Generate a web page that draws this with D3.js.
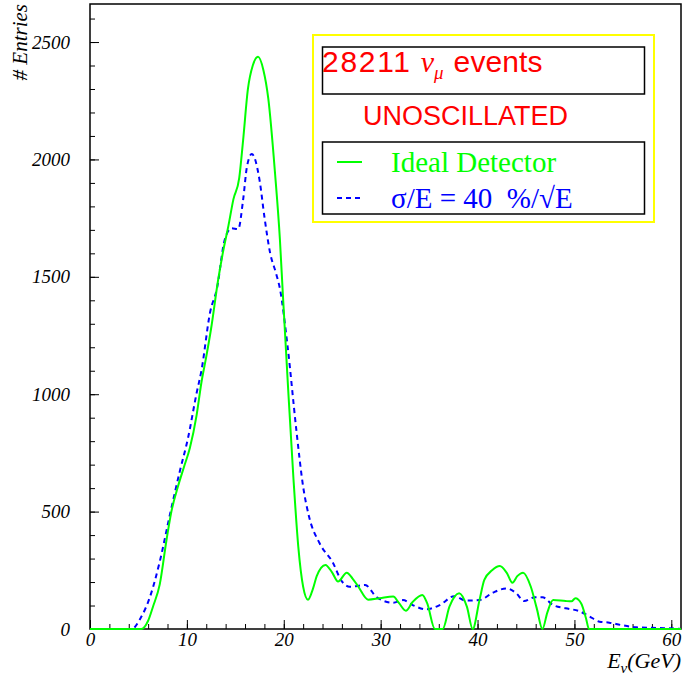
<!DOCTYPE html>
<html>
<head>
<meta charset="utf-8">
<script src="https://cdn.jsdelivr.net/npm/d3@7"></script>
<style>
  html, body { margin: 0; padding: 0; background: #fff; }
  svg { display: block; }
</style>
</head>
<body>
<svg id="chart" width="683" height="677"></svg>
<script>
// Neutrino energy spectrum, 28211 nu_mu events, unoscillated
// Energy points (GeV) and bin contents for the ideal detector
const idealE = [0, 2, 4, 5.3, 6.0, 6.5, 7.2, 7.9, 8.4, 9.1, 9.7, 10.3, 11.0, 11.5, 12.0, 12.5, 13.2, 13.7, 14.3, 14.8, 15.4, 15.8, 16.3, 16.8, 17.35, 17.9, 18.4, 19.1, 19.6, 19.9, 20.4, 21.0, 21.5, 22.0, 22.5, 23.0, 23.4, 24.3, 25.0, 25.6, 26.5, 27.1, 27.7, 28.7, 29.9, 31.3, 31.9, 32.6, 33.3, 34.3, 34.8, 35.6, 36.4, 37.1, 38.1, 38.9, 39.5, 40.2, 40.7, 41.5, 42.3, 43.0, 43.6, 44.1, 44.7, 45.5, 46.1, 46.7, 47.2, 47.8, 49.1, 49.7, 50.1, 50.7, 51.2, 51.5, 52, 61];
const idealN = [0, 0, 0, 0, 35, 95, 190, 380, 500, 610, 690, 770, 910, 1050, 1160, 1280, 1480, 1600, 1720, 1830, 1920, 2080, 2300, 2400, 2437, 2380, 2260, 1940, 1660, 1430, 1060, 640, 350, 180, 125, 170, 225, 273, 240, 202, 240, 215, 180, 125, 131, 138, 110, 78, 115, 145, 110, 0, 0, 95, 152, 95, 0, 123, 209, 250, 268, 240, 197, 225, 240, 180, 90, 0, 70, 123, 119, 118, 131, 109, 45, 0, 0, 0];

// Energy points (GeV) and contents with sigma/E = 40%/sqrt(E) smearing
const smearE = [0, 4.3, 5.2, 6.2, 7.2, 8.2, 9.3, 10.1, 11.0, 11.5, 12.4, 13.1, 13.9, 14.6, 15.3, 15.8, 16.2, 16.7, 17.5, 18.0, 18.6, 19.2, 19.6, 20.4, 21.3, 22.0, 22.6, 23.7, 25.1, 25.9, 26.8, 28.4, 29.6, 31.3, 32.3, 33.3, 34.7, 36.1, 37.6, 38.8, 40.2, 41.6, 43.0, 44.0, 44.8, 45.9, 46.7, 47.8, 49.1, 50.5, 51.5, 52.6, 53.6, 54.8, 56.4, 58.0, 59.8, 61];
const smearN = [0, 0, 45, 138, 287, 478, 677, 810, 1004, 1100, 1350, 1450, 1657, 1707, 1703, 1827, 1969, 2023, 1912, 1756, 1600, 1515, 1450, 1202, 847, 606, 480, 365, 280, 209, 180, 187, 135, 112, 123, 102, 84, 102, 140, 121, 123, 155, 173, 152, 119, 135, 135, 102, 88, 76, 55, 31, 27, 17, 7, 5, 3, 0];

const xTicks = [0, 10, 20, 30, 40, 50, 60];
const yTicks = [0, 500, 1000, 1500, 2000, 2500];

const legendTitle = "28211";
const legendSub = "UNOSCILLATED";
const seriesNames = ["Ideal Detector", "σ/E = 40  %/√E"];
const seriesColors = ["#00ff00", "#0000ff"];

const svg = d3.select("#chart");
const W = 683, H = 677;
const m = { left: 90, right: 2, top: 4, bottom: 48 };

const x = d3.scaleLinear().domain([0, 61]).range([m.left, W - m.right]);
const y = d3.scaleLinear().domain([0, 2662]).range([H - m.bottom, m.top]);

const serif = "'Liberation Serif', 'Times New Roman', serif";
const sans = "'Liberation Sans', Arial, Helvetica, sans-serif";

// axes with inward ticks
const xMajor = d3.axisBottom(x).tickValues(xTicks).tickSizeInner(-9).tickSizeOuter(0).tickPadding(3).tickFormat(d3.format("d"));
const xMinor = d3.axisBottom(x).tickValues(d3.range(0, 61, 2)).tickSizeInner(-5).tickSizeOuter(0).tickFormat("");
const yMajor = d3.axisLeft(y).tickValues(yTicks).tickSizeInner(-9).tickSizeOuter(0).tickPadding(20).tickFormat(d3.format("d"));
const yMinor = d3.axisLeft(y).tickValues(d3.range(0, 2662, 100)).tickSizeInner(-5).tickSizeOuter(0).tickFormat("");

function styleAxis(g) {
  g.select(".domain").remove();
  g.selectAll(".tick line").attr("stroke", "#000").attr("stroke-width", 1);
  g.selectAll(".tick text").attr("fill", "#000")
    .style("font-family", serif).style("font-style", "italic").style("font-size", "19px");
}
svg.append("g").attr("transform", `translate(0,${y(0)})`).call(xMinor).call(styleAxis);
svg.append("g").attr("transform", `translate(0,${y(0)})`).call(xMajor).call(styleAxis);
svg.append("g").attr("transform", `translate(${x(0)},0)`).call(yMinor).call(styleAxis);
svg.append("g").attr("transform", `translate(${x(0)},0)`).call(yMajor).call(styleAxis);

// frame
svg.append("rect")
  .attr("x", x(0)).attr("y", y.range()[1])
  .attr("width", x.range()[1] - x(0)).attr("height", y(0) - y.range()[1])
  .attr("fill", "none").attr("stroke", "#000").attr("stroke-width", 1.5);

// curves, clipped to the frame (with room for the line width at zero)
svg.append("clipPath").attr("id", "frame")
  .append("rect").attr("x", x(0)).attr("y", y.range()[1])
  .attr("width", x.range()[1] - x(0)).attr("height", y(0) - y.range()[1] + 2);

const line = d3.line().x(d => x(d[0])).y(d => y(d[1])).curve(d3.curveMonotoneX);
const plot = svg.append("g").attr("clip-path", "url(#frame)");

plot.append("path")
  .datum(smearE.map((e, i) => [e, smearN[i]]))
  .attr("d", line).attr("fill", "none")
  .attr("stroke", seriesColors[1]).attr("stroke-width", 2)
  .attr("stroke-dasharray", "5,4");

plot.append("path")
  .datum(idealE.map((e, i) => [e, idealN[i]]))
  .attr("d", line).attr("fill", "none")
  .attr("stroke", seriesColors[0]).attr("stroke-width", 2);

// axis titles
svg.append("text")
  .attr("transform", `translate(27,4) rotate(-90)`)
  .attr("text-anchor", "end")
  .style("font-family", serif).style("font-style", "italic").style("font-size", "21px")
  .text("# Entries");

const xt = svg.append("text")
  .attr("x", 681).attr("y", 668).attr("text-anchor", "end")
  .style("font-family", serif).style("font-style", "italic").style("font-size", "22px");
xt.append("tspan").text("E");
xt.append("tspan").attr("dy", 5).style("font-size", "15px").text("ν");
xt.append("tspan").attr("dy", -5).text("(GeV)");

// legend
const lg = svg.append("g");
lg.append("rect").attr("x", 313).attr("y", 35).attr("width", 341).attr("height", 187)
  .attr("fill", "#fff").attr("stroke", "#ffff00").attr("stroke-width", 2);
lg.append("rect").attr("x", 322.5).attr("y", 47).attr("width", 322).attr("height", 47)
  .attr("fill", "none").attr("stroke", "#000").attr("stroke-width", 1.5);
lg.append("rect").attr("x", 322.5).attr("y", 142).attr("width", 322).attr("height", 72)
  .attr("fill", "none").attr("stroke", "#000").attr("stroke-width", 1.5);

const t1 = lg.append("text").attr("x", 322).attr("y", 72).attr("fill", "#ff0000")
  .style("font-family", sans).style("font-size", "30px");
t1.append("tspan").attr("textLength", 88).text(legendTitle);
t1.append("tspan").attr("dx", 9).style("font-family", serif).style("font-style", "italic").text("ν");
t1.append("tspan").attr("dy", 7).style("font-family", serif).style("font-style", "italic").style("font-size", "19px").text("μ");
t1.append("tspan").attr("dy", -7).attr("dx", 10).attr("textLength", 89).text("events");

lg.append("text").attr("x", 363).attr("y", 125).attr("fill", "#ff0000")
  .style("font-family", sans).style("font-size", "27px")
  .text(legendSub);

const rows = [{ y: 162, dash: null }, { y: 198, dash: "5,4" }];
rows.forEach((r, i) => {
  lg.append("line").attr("x1", 337).attr("x2", 362).attr("y1", r.y).attr("y2", r.y)
    .attr("stroke", seriesColors[i]).attr("stroke-width", 2)
    .attr("stroke-dasharray", r.dash);
  lg.append("text").attr("x", 391).attr("y", r.y + 10).attr("fill", seriesColors[i])
    .style("font-family", serif).style("font-size", "29px")
    .style("white-space", "pre")
    .text(seriesNames[i]);
});
</script>
</body>
</html>
